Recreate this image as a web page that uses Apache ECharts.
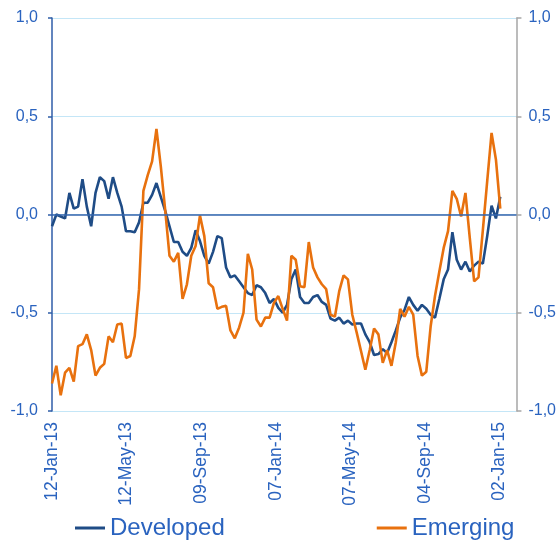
<!DOCTYPE html>
<html>
<head>
<meta charset="utf-8">
<script src="https://cdn.jsdelivr.net/npm/echarts@6/dist/echarts.min.js"></script>
<style>
    html, body { margin: 0; padding: 0; background: #fff; }
    #chart { width: 559px; height: 540px; }
</style>
</head>
<body>
<div id="chart"></div>
<script>
// weekly readings, first one on 12-Jan-13
var startDate = Date.UTC(2013, 0, 12);
var stepDays = 7;

var developed = [
    -0.06, 0.0, -0.01, -0.02, 0.11, 0.03, 0.04, 0.18, 0.04, -0.06,
    0.11, 0.19, 0.17, 0.08, 0.19, 0.11, 0.04, -0.085, -0.085, -0.09,
    -0.04, 0.06, 0.06, 0.10, 0.16, 0.09, 0.02, -0.06, -0.14, -0.14,
    -0.19, -0.21, -0.17, -0.08, -0.135, -0.21, -0.25, -0.19, -0.11, -0.12,
    -0.27, -0.32, -0.31, -0.34, -0.37, -0.40, -0.41, -0.36, -0.37, -0.40,
    -0.45, -0.43, -0.475, -0.50, -0.46, -0.33, -0.28, -0.42, -0.45, -0.45,
    -0.42, -0.41, -0.445, -0.46, -0.53, -0.54, -0.525, -0.555, -0.54, -0.56,
    -0.555, -0.555, -0.61, -0.65, -0.715, -0.71, -0.685, -0.705, -0.65, -0.59,
    -0.525, -0.485, -0.42, -0.46, -0.49, -0.46, -0.48, -0.51, -0.525, -0.43,
    -0.33, -0.28, -0.09, -0.23, -0.28, -0.24, -0.29, -0.26, -0.24, -0.25,
    -0.11, 0.045, -0.02, 0.09
];

var emerging = [
    -0.86, -0.77, -0.92, -0.805, -0.78, -0.85, -0.67, -0.66, -0.61, -0.69,
    -0.82, -0.78, -0.76, -0.62, -0.65, -0.56, -0.555, -0.73, -0.72, -0.62,
    -0.38, 0.12, 0.20, 0.27, 0.435, 0.245, 0.025, -0.21, -0.24, -0.195,
    -0.43, -0.355, -0.21, -0.16, -0.005, -0.11, -0.35, -0.37, -0.48, -0.47,
    -0.465, -0.59, -0.63, -0.575, -0.50, -0.20, -0.28, -0.535, -0.57, -0.525,
    -0.525, -0.45, -0.415, -0.48, -0.54, -0.21, -0.23, -0.365, -0.37, -0.14,
    -0.27, -0.32, -0.355, -0.38, -0.51, -0.52, -0.39, -0.31, -0.33, -0.51,
    -0.60, -0.695, -0.79, -0.69, -0.58, -0.61, -0.755, -0.69, -0.77, -0.65,
    -0.48, -0.52, -0.47, -0.51, -0.72, -0.82, -0.80, -0.57, -0.415, -0.29,
    -0.17, -0.085, 0.12, 0.08, -0.01, 0.11, -0.12, -0.34, -0.32, -0.08,
    0.17, 0.415, 0.28, 0.03
];

var seriesNames = ['Developed', 'Emerging'];
var monthNames = ['Jan', 'Feb', 'Mar', 'Apr', 'May', 'Jun', 'Jul', 'Aug', 'Sep', 'Oct', 'Nov', 'Dec'];

function pad2(n) {
    return (n < 10 ? '0' : '') + n;
}

// days since start -> "12-Jan-13"
function dayLabel(v) {
    var d = new Date(startDate + v * 86400000);
    return pad2(d.getUTCDate()) + '-' + monthNames[d.getUTCMonth()] + '-' + pad2(d.getUTCFullYear() % 100);
}

function commaLabel(v) {
    return v.toFixed(1).replace('.', ',');
}

function toPoints(arr) {
    var out = [];
    for (var i = 0; i < arr.length; i++) {
        out.push([i * stepDays, arr[i]]);
    }
    return out;
}

var blueText = '#2a63bf';
var chart = echarts.init(document.getElementById('chart'));

var option = {
    animation: false,
    grid: { left: 52, right: 40, top: 18, bottom: 129 },
    legend: {
        data: seriesNames,
        left: 75,
        top: 516,
        padding: 0,
        icon: 'rect',
        itemWidth: 30,
        itemHeight: 3,
        itemGap: 152,
        textStyle: { color: blueText, fontSize: 24, fontFamily: 'Liberation Sans, Arial, sans-serif' }
    },
    xAxis: {
        type: 'value',
        min: 0,
        max: 747,
        interval: 120,
        axisLine: { show: false },
        axisTick: { show: false },
        splitLine: { show: false },
        axisLabel: {
            rotate: 90,
            margin: 11,
            showMaxLabel: false,
            color: blueText,
            fontSize: 17.5,
            fontFamily: 'Liberation Sans, Arial, sans-serif',
            formatter: dayLabel
        }
    },
    yAxis: [
        {
            type: 'value',
            position: 'left',
            min: -1,
            max: 1,
            interval: 0.5,
            axisLine: { show: true, lineStyle: { color: '#2f5da8', width: 1.5 } },
            axisTick: { show: true, length: 4, lineStyle: { color: '#2f5da8', width: 1.5 } },
            splitLine: { show: true, lineStyle: { color: '#c4e6f7', width: 1 } },
            axisLabel: {
                margin: 14,
                color: blueText,
                fontSize: 16,
                fontFamily: 'Liberation Sans, Arial, sans-serif',
                formatter: commaLabel
            }
        },
        {
            type: 'value',
            position: 'right',
            min: -1,
            max: 1,
            interval: 0.5,
            axisLine: { show: true, lineStyle: { color: '#a6a6a6', width: 1.5 } },
            axisTick: { show: true, length: 5, lineStyle: { color: '#a6a6a6', width: 1.5 } },
            splitLine: { show: false },
            axisLabel: {
                margin: 12,
                color: blueText,
                fontSize: 16,
                fontFamily: 'Liberation Sans, Arial, sans-serif',
                formatter: commaLabel
            }
        }
    ],
    series: [
        {
            name: seriesNames[0],
            type: 'line',
            data: toPoints(developed),
            showSymbol: false,
            symbol: 'none',
            lineStyle: { color: '#1f4c86', width: 2.6 },
            itemStyle: { color: '#1f4c86' },
            markLine: {
                silent: true,
                symbol: 'none',
                label: { show: false },
                lineStyle: { color: '#3465ad', width: 1.5, type: 'solid' },
                data: [{ yAxis: 0 }]
            }
        },
        {
            name: seriesNames[1],
            type: 'line',
            data: toPoints(emerging),
            showSymbol: false,
            symbol: 'none',
            lineStyle: { color: '#e8710e', width: 2.6 },
            itemStyle: { color: '#e8710e' }
        }
    ]
};

chart.setOption(option);
</script>
</body>
</html>
